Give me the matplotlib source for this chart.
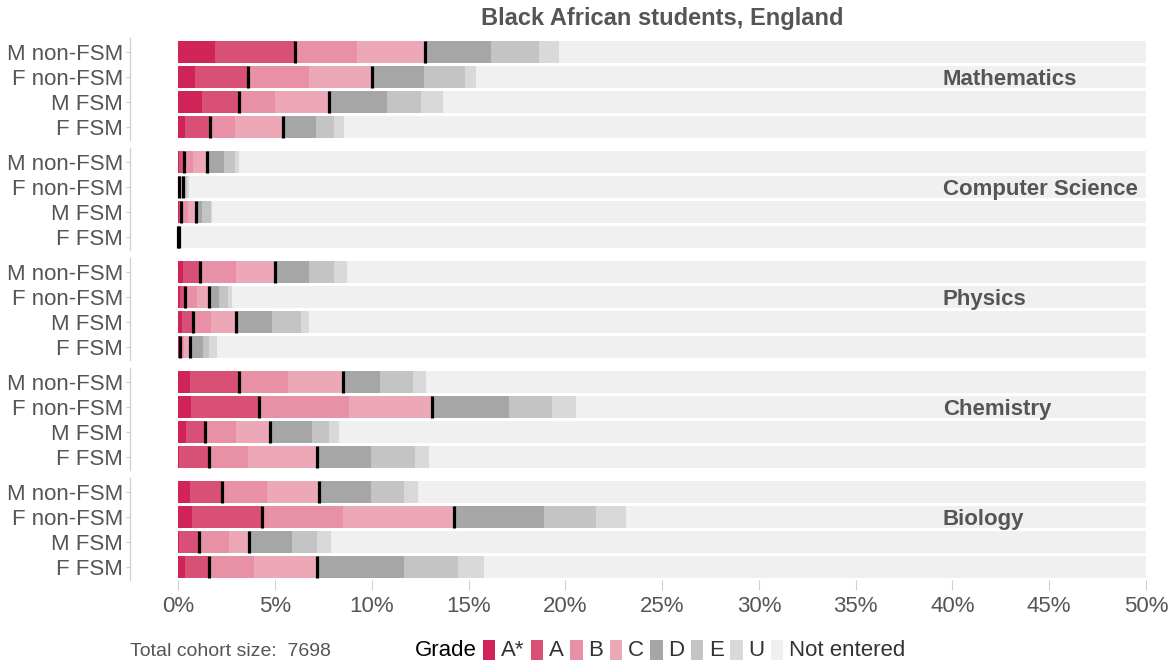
import numpy as np
import matplotlib
matplotlib.use("Agg")
import matplotlib.pyplot as plt
from matplotlib.patches import Rectangle

plt.rcParams['font.family'] = ['Liberation Sans', 'DejaVu Sans']

# ---------------- data (cumulative % of cohort, A* .. U) ----------------
title = "Black African students, England"
subjects = ["Mathematics", "Computer Science", "Physics", "Chemistry", "Biology"]
rows = ["M non-FSM", "F non-FSM", "M FSM", "F FSM"]
grades = ["A*", "A", "B", "C", "D", "E", "U"]
legend_labels = ["A*", "A", "B", "C", "D", "E", "U", "Not entered"]
xticks = [0, 5, 10, 15, 20, 25, 30, 35, 40, 45, 50]
cohort_size = 7698

math_cum = [[1.89, 6.03, 9.22, 12.76, 16.16, 18.64, 19.69],
            [0.86, 3.58, 6.75, 10.01, 12.70, 14.81, 15.37],
            [1.24, 3.12, 5.00, 7.80, 10.78, 12.56, 13.68],
            [0.34, 1.64, 2.93, 5.43, 7.10, 8.04, 8.58]]
cs_cum = [[0.05, 0.31, 0.74, 1.50, 2.36, 2.95, 3.12],
          [0.00, 0.05, 0.10, 0.22, 0.30, 0.45, 0.57],
          [0.03, 0.14, 0.52, 0.90, 1.21, 1.69, 1.76],
          [0.00, 0.00, 0.00, 0.02, 0.02, 0.02, 0.02]]
phys_cum = [[0.22, 1.14, 2.98, 5.01, 6.75, 8.06, 8.72],
            [0.09, 0.36, 0.98, 1.57, 2.09, 2.58, 2.77],
            [0.17, 0.74, 1.69, 2.98, 4.84, 6.32, 6.73],
            [0.03, 0.10, 0.30, 0.60, 1.26, 1.57, 2.02]]
chem_cum = [[0.59, 3.14, 5.67, 8.49, 10.41, 12.14, 12.82],
            [0.64, 4.17, 8.82, 13.13, 17.07, 19.29, 20.55],
            [0.40, 1.36, 3.00, 4.74, 6.91, 7.77, 8.32],
            [0.05, 1.58, 3.60, 7.18, 9.97, 12.23, 12.97]]
bio_cum = [[0.59, 2.26, 4.57, 7.29, 9.97, 11.66, 12.40],
           [0.72, 4.31, 8.53, 14.25, 18.91, 21.58, 23.12],
           [0.05, 1.05, 2.62, 3.63, 5.86, 7.18, 7.87],
           [0.34, 1.60, 3.91, 7.15, 11.65, 14.45, 15.78]]

all_cum = [math_cum, cs_cum, phys_cum, chem_cum, bio_cum]

# ---------------- style ----------------
colors = ["#D02357", "#D85075", "#E891A6", "#EDA8B8",
          "#A6A6A6", "#C4C4C4", "#D9D9D9", "#F0F0F0"]
text_grey = "#555555"
spine_grey = "#CFCFCF"

W, H = 1174, 662
fig = plt.figure(figsize=(W / 100, H / 100), dpi=100)

left_px, right_px = 130, 1174
panel_top0, panel_pitch, panel_h = 38.3, 110, 102
xmax_axis = 50
xlim = (-2.5, 51.45)

axes = []
for i, (subj, cum) in enumerate(zip(subjects, all_cum)):
    top = panel_top0 + i * panel_pitch
    ax = fig.add_axes([left_px / W, 1 - (top + panel_h) / H,
                       (right_px - left_px) / W, panel_h / H])
    axes.append(ax)
    cum = np.asarray(cum, dtype=float)
    y = np.arange(len(rows))
    starts = np.hstack([np.zeros((len(rows), 1)), cum[:, :-1]])
    widths = cum - starts
    for g in range(len(grades)):
        ax.barh(y, widths[:, g], left=starts[:, g], height=0.88,
                color=colors[g], linewidth=0, zorder=2)
    total = cum[:, -1]
    not_entered = 100 - total
    ax.barh(y, np.minimum(not_entered, xmax_axis - total), left=total,
            height=0.88, color=colors[-1], linewidth=0, zorder=1)
    # markers at cumulative A and cumulative C
    for gi in (1, 3):
        ax.vlines(cum[:, gi], y - 0.44, y + 0.44, color="black",
                  linewidth=2.3, zorder=3)
    ax.set_ylim(3.55, -0.55)
    ax.set_xlim(*xlim)
    ax.set_yticks(y)
    ax.set_yticklabels(rows, fontsize=16, color=text_grey)
    ax.tick_params(axis="y", length=3, width=0.8, color=spine_grey, pad=2)
    for s in ("top", "right", "bottom"):
        ax.spines[s].set_visible(False)
    ax.spines["left"].set_color(spine_grey)
    ax.spines["left"].set_linewidth(0.9)
    ax.set_facecolor("none")
    ax.text((943 - left_px) / (right_px - left_px), 1, subj,
            transform=ax.get_yaxis_transform(),
            fontsize=16, fontweight="bold", color=text_grey,
            va="center_baseline", ha="left")
    if i < len(subjects) - 1:
        ax.set_xticks([])
    else:
        ax.set_xticks(xticks)
        ax.set_xticklabels([f"{t}%" for t in xticks], fontsize=16, color=text_grey)
        ax.tick_params(axis="x", length=7, width=0.8, color=spine_grey, pad=4)

fig.text(662 / W, 1 - 19 / H, title, fontsize=17, fontweight="bold",
         color=text_grey, ha="center", va="center")

fig.text(130 / W, 1 - 651 / H, f"Total cohort size:  {cohort_size}",
         fontsize=14, color=text_grey, ha="left", va="center")

# legend
fig.canvas.draw()
renderer = fig.canvas.get_renderer()
ly = 1 - 650 / H
x = 415
t = fig.text(x / W, ly, "Grade", fontsize=16, color="black", ha="left", va="center")
x = t.get_window_extent(renderer).x1 + 6
pw, ph = 12.5, 20
for lab, col in zip(legend_labels, colors):
    fig.add_artist(Rectangle((x / W, (H - 650 - ph / 2) / H), pw / W, ph / H,
                             transform=fig.transFigure, facecolor=col,
                             edgecolor="none"))
    x += pw + 5.5
    t = fig.text(x / W, ly, lab, fontsize=16, color="#333333", ha="left", va="center")
    x = t.get_window_extent(renderer).x1 + 6.5

fig.savefig("out.png", dpi=100)
